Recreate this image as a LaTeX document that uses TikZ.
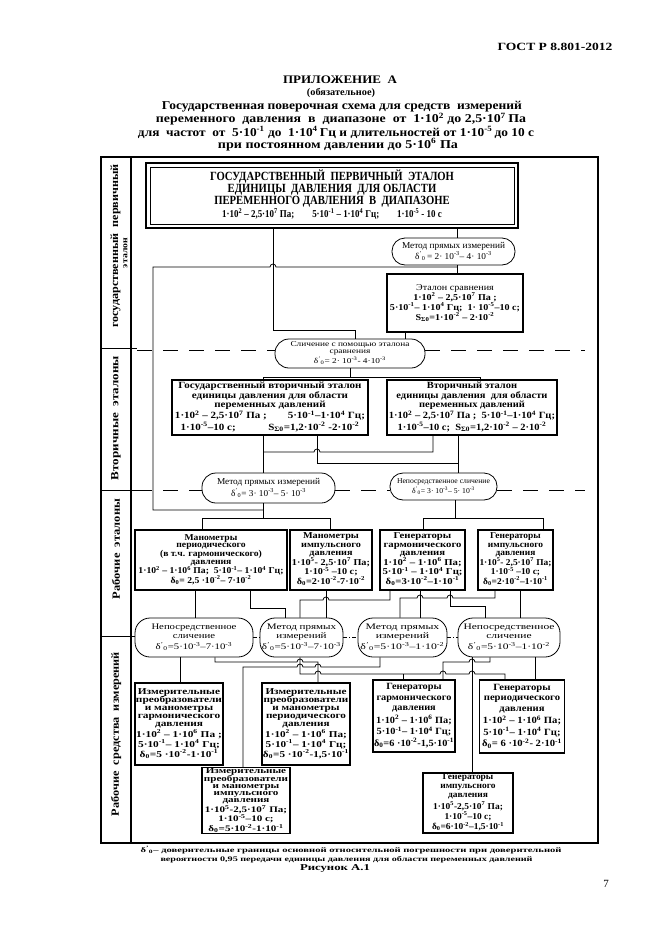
\documentclass[tikz,border=0pt]{standalone}
\usepackage{fontspec}
\usepackage{graphicx}
\setmainfont{Liberation Serif}
\usetikzlibrary{calc}
\newcommand\tp[1]{\smash{\textsuperscript{#1}}}
\newcommand\tb[1]{\smash{\textsubscript{#1}}}
\newcommand\dl{δ\tp{'}\kern-.3pt\tb{0}}
\newcommand\dz{δ\tb{0}}
\newcommand\ssig{S\tb{Σ0}}
\newcommand\TX[4]{\resizebox{#1pt}{\height}{\fontsize{#2}{#3}\selectfont\bfseries\begin{tabular}{@{}c@{}}#4\end{tabular}}}
\newcommand\TM[4]{\resizebox{#1pt}{\height}{\fontsize{#2}{#3}\selectfont\mdseries\begin{tabular}{@{}c@{}}#4\end{tabular}}}
\newcommand\LN[3]{\resizebox{#1pt}{\height}{\fontsize{#2}{#2}\selectfont\bfseries #3}}
\begin{document}
\begin{tikzpicture}[x=1pt,y=-1pt,
  bx/.style={draw, line width=1.5pt, inner sep=0pt, align=center},
  el/.style={draw, line width=0.8pt, inner sep=0pt, rounded corners=#1},
  el/.default=13,
  ln/.style={line width=0.75pt},
  dsh/.style={line width=0.9pt, dash pattern=on 15pt off 11pt},
  dd/.style={line width=0.8pt, dash pattern=on 4pt off 2pt on 1pt off 2pt}]
\useasboundingbox (0,0) rectangle (661,935);
\fill[white] (0,0) rectangle (661,935);

% header
\node (gost) at (555,47) {\LN{115}{11}{ГОСТ Р 8.801-2012}};
\node (h1) at (340,80) {\LN{114}{11.5}{ПРИЛОЖЕНИЕ\ \ А}};
\node (h2) at (341,93) {\LN{68}{10}{(обязательное)}};
\node (h3) at (342,107) {\LN{360}{12}{Государственная поверочная схема для средств\ \ измерений}};
\node (h4) at (341,120) {\LN{370}{12}{переменного\ \ давления\ \ в\ \ диапазоне\ \ от\ \ 1·10\tp{2} до 2,5·10\tp{7}\,Па}};
\node (h5) at (336,133) {\LN{396}{12}{для\ \ частот\ \ от\ \ 5·10\tp{-1} до\ \ 1·10\tp{4}\,Гц и длительностей от 1·10\tp{-5}\,до 10 с}};
\node (h6) at (338,145.5) {\LN{240}{12}{при постоянном давлении до 5·10\tp{6} Па}};

% frame
\draw[line width=1.8pt] (101,157) rectangle (598,843);
\draw[line width=2.2pt] (131,157) -- (131,843);
\draw[line width=0.7pt] (101,348) -- (137,348);
\draw[line width=0.7pt] (101,490) -- (137,490);
\draw[line width=0.7pt] (101,636) -- (135,636);

% left labels
\node[rotate=90] (lab1) at (115.5,246) {\LN{163}{11}{государственный\ \ первичный}};
\node[rotate=90] (lab1b) at (125.5,253) {\LN{30}{8.5}{эталон}};
\node[rotate=90] (lab2) at (116,418) {\LN{124}{11}{Вторичные\ \ эталоны}};
\node[rotate=90] (lab3) at (116,549) {\LN{100}{11}{Рабочие\ \ эталоны}};
\node[rotate=90] (lab4) at (116,734) {\LN{164}{11}{Рабочие\ \ средства\ \ измерений}};

% primary standard
\node[bx, line width=2pt, minimum width=372, minimum height=65] (prim) at (332,195.5)
 {\TX{244}{12.5}{11.7}{ГОСУДАРСТВЕННЫЙ\ \ ПЕРВИЧНЫЙ\ \ ЭТАЛОН\\ ЕДИНИЦЫ\ \ ДАВЛЕНИЯ\ \ ДЛЯ ОБЛАСТИ\\ ПЕРЕМЕННОГО ДАВЛЕНИЯ\ \ В\ \ ДИАПАЗОНЕ\\[1.5pt] \fontsize{10.5}{11}\selectfont 1·10\tp{2} – 2,5·10\tp{7} Па;\qquad 5·10\tp{-1} – 1·10\tp{4} Гц;\qquad 1·10\tp{-5} - 10 с}};
\draw[line width=1pt] ($(prim.north west)+(5,5)$) rectangle ($(prim.south east)+(-5,-5)$);

\node[el=13, minimum width=123, minimum height=27] (m1) at (453.5,251.5)
 {\TM{103}{9}{11.5}{Метод прямых измерений\\ \dl\,= 2· 10\tp{-3}– 4· 10\tp{-3}}};
\node[bx, minimum width=136, minimum height=58] (cmp) at (455,303)
 {\TX{130}{9}{10}{\mdseries Эталон сравнения\\ 1·10\tp{2} – 2,5·10\tp{7} Па ;\\ 5·10\tp{-1}– 1·10\tp{4} Гц;\ \ 1· 10\tp{-5}–10 с;\\ \ssig=1·10\tp{-2} – 2·10\tp{-2}}};
\node[el=14, minimum width=150, minimum height=29] (sl) at (350,353.5)
 {\TM{119}{7.5}{7.6}{Сличение с помощью эталона\\ сравнения\\[2.5pt] \dl= 2· 10\tp{-3}- 4·10\tp{-3}}};

% secondary standards
\node[bx, minimum width=196, minimum height=55] (vl) at (270,407.5)
 {\TX{190}{9.5}{8.3}{Государственный вторичный эталон\\ единицы давления для области\\ переменных давлений\\[3pt] 1·10\tp{2} – 2,5·10\tp{7} Па ;\hspace{18pt}5·10\tp{-1}–1·10\tp{4} Гц;\\[2.5pt] 1·10\tp{-5}–10 с;\hspace{28pt}\ssig=1,2·10\tp{-2} -2·10\tp{-2}}};
\node[bx, minimum width=170, minimum height=55] (vr) at (472,407.5)
 {\TX{166}{9.5}{8.3}{Вторичный эталон\\ единицы давления\ \ для области\\ переменных давлений\\[3pt] 1·10\tp{2} – 2,5·10\tp{7} Па ;\ \ 5·10\tp{-1}–1·10\tp{4} Гц;\\[2.5pt] 1·10\tp{-5}–10 с;\ \ \ssig=1,2·10\tp{-2} – 2·10\tp{-2}}};

\node[el=14, minimum width=133, minimum height=30] (m2) at (268.5,488)
 {\TM{103}{9}{12}{Метод прямых измерений\\ \dl = 3· 10\tp{-3}– 5· 10\tp{-3}}};
\node[el=13, minimum width=107, minimum height=27] (n2) at (443.5,486.5)
 {\TM{93}{7.5}{9.5}{Непосредственное сличение\\ \dl= 3· 10\tp{-3}– 5· 10\tp{-3}}};

% working standards
\node[bx, minimum width=152, minimum height=60] (w1) at (211,560)
 {\TX{145}{9}{7.9}{Манометры\\ периодического\\ (в т.ч. гармонического)\\ давления\\[1pt] 1·10\tp{2} – 1·10\tp{6} Па;\ \ 5·10\tp{-1}– 1·10\tp{4} Гц;\\[1pt] \dz = 2,5 ·10\tp{-2}– 7·10\tp{-2}}};
\node[bx, minimum width=82, minimum height=60] (w2) at (331,560)
 {\TX{78}{9}{8.3}{Манометры\\ импульсного\\ давления\\[1.5pt] 1·10\tp{5}- 2,5·10\tp{7} Па;\\[1pt] 1·10\tp{-5} –10 с;\\[1pt] \dz=2·10\tp{-2}-7·10\tp{-2}}};
\node[bx, minimum width=85, minimum height=60] (w3) at (422.5,560)
 {\TX{80}{9}{8.3}{Генераторы\\ гармонического\\ давления\\[1.5pt] 1·10\tp{2} – 1·10\tp{6} Па;\\[1pt] 5·10\tp{-1} – 1·10\tp{4} Гц;\\[1pt] \dz=3·10\tp{-2}–1·10\tp{-1}}};
\node[bx, minimum width=75, minimum height=60] (w4) at (515.5,560)
 {\TX{72}{9}{8.3}{Генераторы\\ импульсного\\ давления\\[1.5pt] 1·10\tp{5}- 2,5·10\tp{7} Па;\\[1pt] 1·10\tp{-5} –10 с;\\[1pt] \dz=2·10\tp{-2}–1·10\tp{-1}}};

% method row
\node[el=15, minimum width=118, minimum height=39] (e1) at (194,637.5)
 {\TM{85}{8.5}{9}{Непосредственное\\ сличение\\[2.5pt] \dl=5·10\tp{-3}–7·10\tp{-3}}};
\node[el=15, minimum width=83, minimum height=39] (e2) at (301.5,637.5)
 {\TM{79}{8.5}{9}{Метод прямых\\ измерений\\[2.5pt] \dl=5·10\tp{-3}–7·10\tp{-3}}};
\node[el=15, minimum width=89, minimum height=39] (e3) at (402.5,637.5)
 {\TM{84}{8.5}{9}{Метод прямых\\ измерений\\[2.5pt] \dl=5·10\tp{-3}–1·10\tp{-2}}};
\node[el=15, minimum width=102, minimum height=39] (e4) at (509,637.5)
 {\TM{91}{8.5}{9}{Непосредственное\\ сличение\\[2.5pt] \dl=5·10\tp{-3}–1·10\tp{-2}}};

% working instruments
\node[bx, minimum width=88, minimum height=82] (b1) at (179,724)
 {\TX{86}{9}{8}{Измерительные\\ преобразователи\\ и манометры\\ гармонического\\ давления\\[2pt] 1·10\tp{2} – 1·10\tp{6} Па ;\\[1.5pt] 5·10\tp{-1}– 1·10\tp{4} Гц;\\[1.5pt] \dz=5 ·10\tp{-2}-1·10\tp{-1}}};
\node[bx, minimum width=88, minimum height=82] (b2) at (306,724)
 {\TX{86}{9}{8}{Измерительные\\ преобразователи\\ и манометры\\ периодического\\ давления\\[2pt] 1·10\tp{2} – 1·10\tp{6} Па;\\[1.5pt] 5·10\tp{-1}– 1·10\tp{4} Гц;\\[1.5pt] \dz=5 ·10\tp{-2}-1,5·10\tp{-1}}};
\node[bx, minimum width=82, minimum height=72] (b3) at (414,716)
 {\TX{80}{9.5}{10.5}{Генераторы\\ гармонического\\ давления\\[2pt] 1·10\tp{2} – 1·10\tp{6} Па;\\[1pt] 5·10\tp{-1}– 1·10\tp{4} Гц;\\[1pt] \dz=6 ·10\tp{-2}-1,5·10\tp{-1}}};
\node[bx, minimum width=85, minimum height=73] (b4) at (522,716.5)
 {\TX{80}{9.5}{10.5}{Генераторы\\ периодического\\ давления\\[2pt] 1·10\tp{2} – 1·10\tp{6} Па;\\[1pt] 5·10\tp{-1}– 1·10\tp{4} Гц;\\[1pt] \dz= 6 ·10\tp{-2}- 2·10\tp{-1}}};
\node[bx, minimum width=88, minimum height=66] (b5) at (246,800.5)
 {\TX{84}{8.5}{7}{Измерительные\\ преобразователи\\ и манометры\\ импульсного\\ давления\\[2pt] 1·10\tp{5}-2,5·10\tp{7} Па;\\[1.5pt] 1·10\tp{-5}–10 с;\\[1.5pt] \dz=5·10\tp{-2}-1·10\tp{-1}}};
\node[bx, minimum width=90, minimum height=60] (b6) at (468,803)
 {\TX{72}{9}{8.8}{Генераторы\\ импульсного\\ давления\\[3pt] 1·10\tp{5}-2,5·10\tp{7} Па;\\[1.5pt] 1·10\tp{-5}–10 с;\\[1.5pt] \dz=6·10\tp{-2}–1,5·10\tp{-1}}};

% dashed separators
\draw[dsh] (137,350) -- (sl.west |- 0,350);
\draw[dsh] (sl.east |- 0,350) -- (585,350);
\draw[dsh] (137,490) -- (m2.west |- 0,490);
\draw[dsh] (m2.east |- 0,490) -- (n2.west |- 0,490);
\draw[dsh] (n2.east |- 0,490) -- (585,490);
\draw[dd] (e1.east) -- (e2.west);
\draw[dd] (e2.east) -- (e3.west);
\draw[dd] (e3.east) -- (e4.west);

% connectors, upper part
\draw[ln] (prim.south -| 273,0) -- (273,330) -- (355,330) -- (sl.north -| 355,0);
\draw[ln] (prim.south -| 457,0) -- (m1.north -| 457,0);
\draw[ln] (m1.south -| 457,0) -- (cmp.north -| 457,0);
\draw[ln] (457,267) -- (276,267) arc[start angle=0,end angle=-180,radius=3] -- (153,267) -- (153,510) -- (263,510);
\draw[ln] (cmp.south -| 405,0) -- (sl.north -| 405,0);
\draw[ln] (sl.south) -- (sl.south |- 0,377);
\draw[ln] (vl.north -| 263,0) -- (263,377) -- (480,377) -- (vr.north -| 480,0);
\draw[ln] (vl.south -| 263,0) -- (m2.north -| 263,0);
\draw[ln] (vr.south -| 433,0) -- (433,452) -- (320,452) arc[start angle=0,end angle=-180,radius=3] -- (263,452);
\draw[ln] (vl.south -| 317,0) -- (317,463) -- (458,463);
\draw[ln] (vr.south -| 458,0) -- (n2.north -| 458,0);
\draw[ln] (m2.south -| 263,0) -- (263,518);
\draw[ln] (w1.north -| 202,0) -- (202,518) -- (330,518) -- (w2.north -| 330,0);
\draw[ln] (n2.south -| 455,0) -- (455,518);
\draw[ln] (w3.north -| 423,0) -- (423,518) -- (543,518) -- (w4.north -| 543,0);

% connectors: working standards -> methods
\draw[ln] (w1.south -| 195,0) -- (e1.north -| 195,0);
\draw[ln] (w1.south -| 250,0) -- (250,608) -- (285,608) -- (e2.north -| 285,0);
\draw[ln] (w2.south -| 326,0) -- (e2.north -| 326,0);
\draw[ln] (w3.south -| 390,0) -- (390,600) -- (329,600) arc[start angle=0,end angle=-180,radius=3] -- (300,600) -- (e2.north -| 300,0);
\draw[ln] (w3.south -| 420,0) -- (e3.north -| 420,0);
\draw[ln] (w3.south -| 450,0) -- (450,606) -- (485,606) -- (e4.north -| 485,0);
\draw[ln] (w4.south -| 520,0) -- (e4.north -| 520,0);
\draw[ln] (w4.south -| 495,0) -- (495,598) -- (453,598) arc[start angle=0,end angle=-180,radius=3]
   -- (423,598) arc[start angle=0,end angle=-180,radius=3] -- (400,598) -- (e3.north -| 400,0);

% connectors: methods -> working instruments
\draw[ln] (e1.south -| 180,0) -- (b1.north -| 180,0);
\draw[ln] (e1.south -| 215,0) -- (215,662) -- (297,662) arc[start angle=180,end angle=360,radius=3] -- (318,662) -- (b2.north -| 318,0);
\draw[ln] (e3.south -| 380,0) -- (380,667) -- (321,667) arc[start angle=0,end angle=-180,radius=3]
   -- (303,667) arc[start angle=0,end angle=-180,radius=3] -- (243,667) -- (b5.north -| 243,0);
\draw[ln] (e2.south -| 300,0) -- (300,674) -- (315,674) arc[start angle=180,end angle=360,radius=3]
   -- (440,674) arc[start angle=180,end angle=360,radius=3]
   -- (469,674) arc[start angle=180,end angle=360,radius=3] -- (505,674) -- (b4.north -| 505,0);
\draw[ln] (403,674) -- (b3.north -| 403,0);
\draw[ln] (e4.south -| 472,0) -- (b6.north -| 472,0);
\draw[ln] (e4.south -| 535,0) -- (b4.north -| 535,0);
\draw[ln] (e4.south -| 490,0) -- (490,662) -- (475,662) arc[start angle=0,end angle=-180,radius=3] -- (443,662) -- (b3.north -| 443,0);

% footnote
\node[anchor=west] (fn1) at (137,850.5) {\LN{421}{7}{\dl– доверительные границы основной относительной погрешности при доверительной}};
\node[anchor=west] (fn2) at (157,859.5) {\LN{372}{7}{вероятности 0,95 передачи единицы давления для области переменных давлений}};
\node (fig) at (335,868.5) {\LN{70}{9}{Рисунок А.1}};
\node (pg) at (606,884) {\fontsize{11}{12}\selectfont 7};
\end{tikzpicture}
\end{document}
